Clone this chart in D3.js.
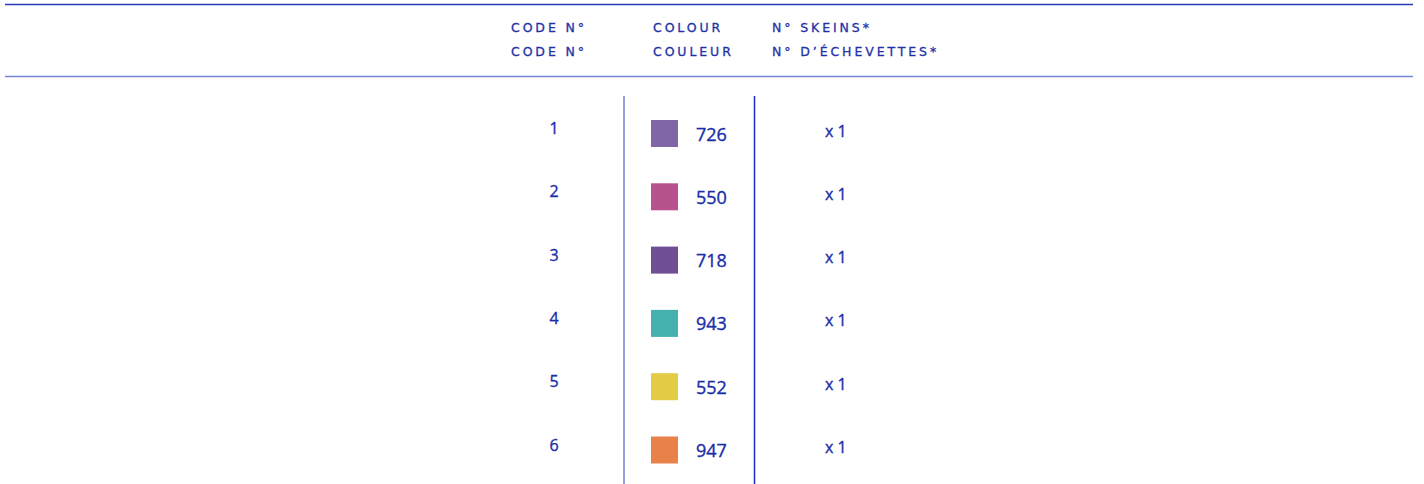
<!DOCTYPE html>
<html>
<head>
<meta charset="utf-8">
<script src="https://cdn.jsdelivr.net/npm/d3@7"></script>
<style>
  body { margin: 0; background: #fff; }
  .head { font-family: "DejaVu Sans", sans-serif; font-size: 12.5px; fill: #1f32a8; stroke: #1f32a8; stroke-width: 0.3px; letter-spacing: 2.9px; }
  .num { font-family: "Open Sans", "Noto Sans", sans-serif; fill: #1a2ea8; stroke: #1a2ea8; stroke-width: 0.35px; }
</style>
</head>
<body>
<div id="chart"></div>
<script>
// Table data
const codes = ["1", "2", "3", "4", "5", "6"];
const colourNums = ["726", "550", "718", "943", "552", "947"];
const swatchColours = ["#8066a4", "#b8528f", "#714f97", "#45b0ae", "#e4cc44", "#e8814a"];
const skeins = [1, 1, 1, 1, 1, 1];

const headerTop = ["CODE N°", "COLOUR", "N° SKEINS*"];
const headerBottom = ["CODE N°", "COULEUR", "N° D’ÉCHEVETTES*"];

const WIDTH = 1424;
const HEIGHT = 484;

const svg = d3
	.select("#chart")
	.append("svg")
	.attr("width", WIDTH)
	.attr("height", HEIGHT);

// Row positions
const y = d3.scalePoint().domain(codes).range([133.5, 450]);

// Column positions
const colX = [511, 653, 772];

// Horizontal rules
svg.append("line")
	.attr("x1", 5).attr("x2", 1413)
	.attr("y1", 4.5).attr("y2", 4.5)
	.attr("stroke", "#2a3ab8").attr("stroke-width", 1.5);

svg.append("line")
	.attr("x1", 5).attr("x2", 1413)
	.attr("y1", 76.5).attr("y2", 76.5)
	.attr("stroke", "#7886d6").attr("stroke-width", 1.5);

// Header labels
svg.selectAll(".head-top")
	.data(headerTop)
	.enter()
	.append("text")
	.attr("class", "head")
	.attr("x", (d, i) => colX[i])
	.attr("y", 32)
	.text((d) => d);

svg.selectAll(".head-bottom")
	.data(headerBottom)
	.enter()
	.append("text")
	.attr("class", "head")
	.attr("x", (d, i) => colX[i])
	.attr("y", 56)
	.text((d) => d);

// Vertical dividers
svg.append("line")
	.attr("x1", 624).attr("x2", 624)
	.attr("y1", 96).attr("y2", HEIGHT)
	.attr("stroke", "#7482d8").attr("stroke-width", 1.5);

svg.append("line")
	.attr("x1", 754.5).attr("x2", 754.5)
	.attr("y1", 96).attr("y2", HEIGHT)
	.attr("stroke", "#1a30c0").attr("stroke-width", 1.5);

// Rows
const row = svg
	.selectAll(".row")
	.data(codes)
	.enter()
	.append("g")
	.attr("class", "row")
	.attr("transform", (d) => `translate(0,${y(d)})`);

row.append("text")
	.attr("class", "num")
	.attr("x", 554)
	.attr("y", 0.5)
	.attr("text-anchor", "middle")
	.style("font-size", "16px")
	.text((d) => d);

row.append("rect")
	.attr("x", 651)
	.attr("y", -13.5)
	.attr("width", 27)
	.attr("height", 27)
	.attr("fill", (d, i) => swatchColours[i]);

row.append("text")
	.attr("class", "num")
	.attr("x", 696)
	.attr("y", 7)
	.style("font-size", "18px")
	.text((d, i) => colourNums[i]);

row.append("text")
	.attr("class", "num")
	.attr("x", 825)
	.attr("y", 3)
	.style("font-size", "16px")
	.text((d, i) => "x " + skeins[i]);
</script>
</body>
</html>
